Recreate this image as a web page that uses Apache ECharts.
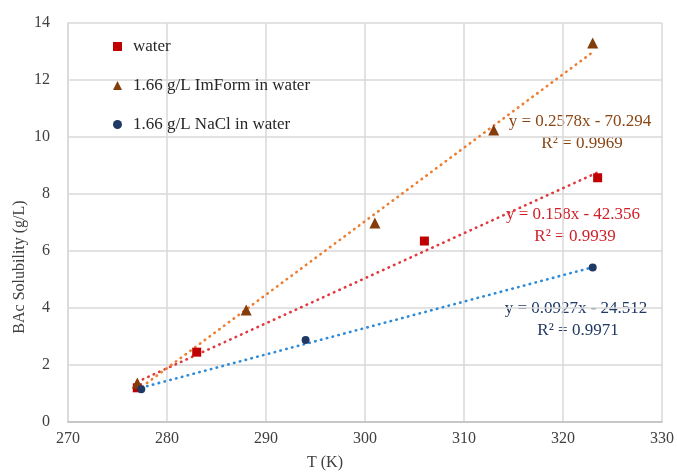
<!DOCTYPE html>
<html>
<head>
<meta charset="utf-8">
<script src="https://cdn.jsdelivr.net/npm/echarts@6/dist/echarts.min.js"></script>
<style>
html, body { margin: 0; padding: 0; background: #fff; }
#main { width: 677px; height: 473px; }
</style>
</head>
<body>
<div id="main"></div>
<script>
// measured points
const waterT = [277, 283, 306, 323.5];
const waterS = [1.2, 2.45, 6.35, 8.57];
const imformT = [277, 288, 301, 313, 323];
const imformS = [1.37, 3.93, 6.98, 10.25, 13.3];
const naclT = [277.4, 294, 323];
const naclS = [1.15, 2.88, 5.42];

const seriesNames = ['water', '1.66 g/L ImForm in water', '1.66 g/L NaCl in water'];
// trendline equations shown on the chart
const slopes = [0.158, 0.2578, 0.0927];
const intercepts = [-42.356, -70.294, -24.512];
const r2 = ['0.9939', '0.9969', '0.9971'];

const xTicks = [270, 280, 290, 300, 310, 320, 330];
const yTicks = [0, 2, 4, 6, 8, 10, 12, 14];

const font = 'Liberation Serif';
const markerColors = ['#C00000', '#843C0C', '#1F3864'];
const trendColors = ['#E0383E', '#ED7D31', '#2E8BD8'];
const eqColors = ['#D01F27', '#8B4513', '#1F3864'];

const sets = [[waterT, waterS], [imformT, imformS], [naclT, naclS]];
const symbols = ['rect', 'triangle', 'circle'];
const symbolSizes = [9, 11, 8];

const trendSeries = sets.map((s, i) => {
    const xs = s[0];
    const x0 = Math.min(...xs), x1 = Math.max(...xs);
    return {
        type: 'line',
        silent: true,
        symbol: 'none',
        z: 1,
        lineStyle: { color: trendColors[i], width: 2.6, type: [0.5, 5.5], cap: 'round' },
        data: [[x0, slopes[i] * x0 + intercepts[i]], [x1, slopes[i] * x1 + intercepts[i]]]
    };
});

const pointSeries = sets.map((s, i) => ({
    name: seriesNames[i],
    type: 'scatter',
    symbol: symbols[i],
    symbolSize: symbolSizes[i],
    z: 3,
    itemStyle: { color: markerColors[i], opacity: 1 },
    data: s[0].map((t, k) => [t, s[1][k]])
}));

// equation label positions (pixels)
const eqPos = [[573, 215], [580, 122], [576, 309]];
const eqGraphics = [];
eqPos.forEach((p, i) => {
    const b = intercepts[i] < 0 ? ' - ' + Math.abs(intercepts[i]) : ' + ' + intercepts[i];
    eqGraphics.push({
        type: 'text', x: p[0], y: p[1],
        style: { text: 'y = ' + slopes[i] + 'x' + b, fill: eqColors[i], font: '17px ' + font, textAlign: 'center', textVerticalAlign: 'middle' }
    });
    eqGraphics.push({
        type: 'text', x: p[0] + 2, y: p[1] + 22,
        style: { text: 'R² = ' + r2[i], fill: eqColors[i], font: '17px ' + font, textAlign: 'center', textVerticalAlign: 'middle' }
    });
});

const chart = echarts.init(document.getElementById('main'));
chart.setOption({
    animation: false,
    backgroundColor: '#fff',
    grid: { left: 68, right: 14, top: 23, bottom: 51 },
    legend: {
        orient: 'vertical',
        left: 108,
        top: 33,
        itemGap: 22,
        itemWidth: 9,
        itemHeight: 9,
        data: seriesNames,
        textStyle: { fontFamily: font, fontSize: 17, color: '#262626', padding: [0, 0, 0, 6] }
    },
    xAxis: {
        type: 'value',
        min: xTicks[0],
        max: xTicks[xTicks.length - 1],
        interval: 10,
        axisLine: { show: true, lineStyle: { color: '#bfbfbf', width: 1.5 } },
        axisTick: { show: false },
        splitLine: { show: true, lineStyle: { color: '#d9d9d9', width: 1.5 } },
        axisLabel: { fontFamily: font, fontSize: 16, color: '#404040', margin: 9 }
    },
    yAxis: {
        type: 'value',
        min: yTicks[0],
        max: yTicks[yTicks.length - 1],
        interval: 2,
        axisLine: { show: true, lineStyle: { color: '#d9d9d9', width: 1.5 } },
        axisTick: { show: false },
        splitLine: { show: true, lineStyle: { color: '#d9d9d9', width: 1.5 } },
        axisLabel: { fontFamily: font, fontSize: 16, color: '#404040', margin: 18 }
    },
    graphic: [
        {
            type: 'text', x: 20, y: 267, rotation: Math.PI / 2,
            style: { text: 'BAc Solubility (g/L)', fill: '#404040', font: '16px ' + font, textAlign: 'center', textVerticalAlign: 'middle' }
        },
        {
            type: 'text', x: 325, y: 463,
            style: { text: 'T (K)', fill: '#404040', font: '16px ' + font, textAlign: 'center', textVerticalAlign: 'middle' }
        }
    ].concat(eqGraphics),
    series: trendSeries.concat(pointSeries)
});
window.addEventListener('resize', () => chart.resize());
</script>
</body>
</html>
